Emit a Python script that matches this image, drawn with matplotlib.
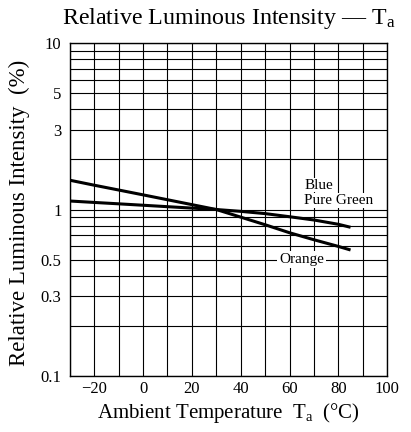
import matplotlib.pyplot as plt
import numpy as np
from matplotlib.ticker import FixedLocator, LogLocator, NullFormatter

plt.rcParams['font.family'] = ['Liberation Serif', 'DejaVu Serif']
plt.rcParams['mathtext.fontset'] = 'custom'
plt.rcParams['mathtext.rm'] = 'Liberation Serif'
plt.rcParams['mathtext.it'] = 'Liberation Serif'

# Blue / Pure Green curve
temp_blue = [-30, -20, -10, 0, 10, 20, 30, 40, 50, 60, 70, 80, 85]
rel_blue = [1.125, 1.103, 1.082, 1.061, 1.04, 1.02, 1.0, 0.975, 0.945, 0.905, 0.865, 0.815, 0.782]

# Orange curve
temp_orange = [-30, -20, -10, 0, 10, 20, 30, 40, 50, 60, 70, 80, 85]
rel_orange = [1.50, 1.40, 1.31, 1.225, 1.145, 1.07, 1.0, 0.90, 0.81, 0.725, 0.658, 0.60, 0.571]

x_ticks = [-20, 0, 20, 40, 60, 80, 100]
y_ticks = [0.1, 0.3, 0.5, 1, 3, 5, 10]
y_labels = ['0.1', '0.3', '0.5', '1', '3', '5', '10']

fig = plt.figure(figsize=(4.11, 4.32), dpi=100)
ax = fig.add_axes([0.170, 0.130, 0.772, 0.770])

ax.set_yscale('log')
ax.set_xlim(-30, 100)
ax.set_ylim(0.1, 10)

ax.xaxis.set_major_locator(FixedLocator(x_ticks))
ax.xaxis.set_minor_locator(FixedLocator(np.arange(-30, 101, 10)))
ax.yaxis.set_major_locator(FixedLocator(y_ticks))
ax.set_yticklabels(y_labels)
ax.yaxis.set_minor_locator(LogLocator(base=10, subs=np.arange(1, 10)))
ax.yaxis.set_minor_formatter(NullFormatter())

ax.grid(True, which='both', color='black', linewidth=0.8)
ax.tick_params(which='both', length=0, labelsize=12)
ax.tick_params(axis='x', pad=4)
ax.tick_params(axis='y', pad=6)
for s in ax.spines.values():
    s.set_linewidth(1.0)

ax.plot(temp_blue, rel_blue, color='black', linewidth=2.2, solid_capstyle='butt')
ax.plot(temp_orange, rel_orange, color='black', linewidth=2.2, solid_capstyle='butt')

ax.text(66, 1.40, 'Blue', fontsize=11, ha='left', va='center',
        bbox=dict(facecolor='white', edgecolor='none', pad=0.5))
ax.text(66, 1.13, 'Pure Green', fontsize=11, ha='left', va='center',
        bbox=dict(facecolor='white', edgecolor='none', pad=0.5))
ax.text(65, 0.50, 'Orange', fontsize=11, ha='center', va='center',
        bbox=dict(facecolor='white', edgecolor='none', pad=1.5))

fig.text(0.557, 0.958, r'Relative Luminous Intensity — T$_\mathrm{a}$',
         fontsize=17.3, ha='center', va='center')
fig.text(0.557, 0.044, r'Ambient Temperature  T$_\mathrm{a}$  (°C)',
         fontsize=15, ha='center', va='center')
fig.text(0.048, 0.507, 'Relative Luminous Intensity  (%)', fontsize=16.5,
         ha='center', va='center', rotation=90)

plt.savefig('out.png', dpi=100)
